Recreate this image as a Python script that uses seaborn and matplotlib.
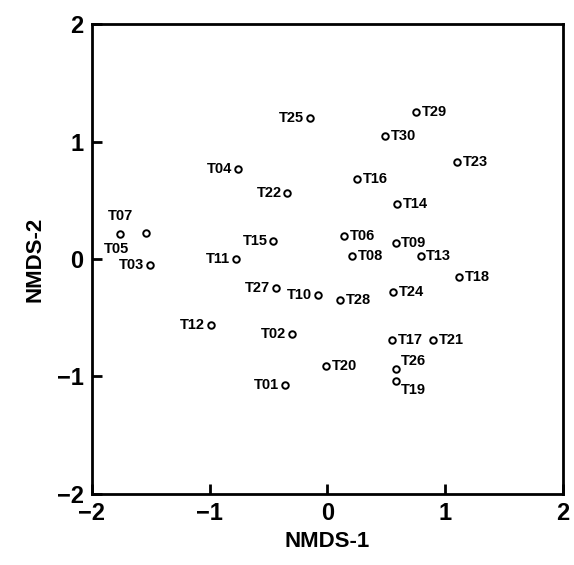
import matplotlib
matplotlib.use("Agg")
import matplotlib.pyplot as plt
import seaborn as sns
import pandas as pd

# NMDS site scores
sites = ["T01", "T02", "T03", "T04", "T05", "T06", "T07", "T08", "T09", "T10",
         "T11", "T12", "T13", "T14", "T15", "T16", "T17", "T18", "T19", "T20",
         "T21", "T22", "T23", "T24", "T25", "T26", "T27", "T28", "T29", "T30"]
nmds1 = [-0.36, -0.30, -1.51, -0.76, -1.54, 0.14, -1.76, 0.21, 0.58, -0.08,
         -0.78, -0.99, 0.79, 0.59, -0.46, 0.25, 0.55, 1.12, 0.58, -0.01,
         0.90, -0.34, 1.10, 0.56, -0.15, 0.58, -0.44, 0.11, 0.75, 0.49]
nmds2 = [-1.07, -0.64, -0.05, 0.77, 0.22, 0.20, 0.21, 0.03, 0.14, -0.31,
         0.00, -0.56, 0.03, 0.47, 0.15, 0.68, -0.69, -0.15, -1.04, -0.91,
         -0.69, 0.56, 0.83, -0.28, 1.20, -0.94, -0.25, -0.35, 1.25, 1.05]
# label side relative to the point: 'l' left, 'r' right, 'u' above,
# 'ul' above-left, 'ru' right and raised, 'rd' right and lowered
side = ["l", "l", "l", "l", "ul", "r", "u", "r", "r", "l",
        "l", "l", "r", "r", "l", "r", "r", "r", "rd", "r",
        "r", "l", "r", "r", "l", "ru", "l", "r", "r", "r"]

df = pd.DataFrame({"site": sites, "NMDS-1": nmds1, "NMDS-2": nmds2, "side": side})

sns.set_theme(style="white")
plt.rcParams["font.family"] = ["Liberation Sans", "DejaVu Sans"]

fig = plt.figure(figsize=(5.74, 5.65), dpi=100)
ax = fig.add_axes([0.160, 0.126, 0.821, 0.831])

sns.scatterplot(data=df, x="NMDS-1", y="NMDS-2", ax=ax, marker="o",
                s=22, facecolor="white", edgecolor="black", linewidth=1.4,
                zorder=3)

offsets = {
    "r": dict(xytext=(4, 0), ha="left", va="center"),
    "ru": dict(xytext=(4, 1), ha="left", va="bottom"),
    "rd": dict(xytext=(4, -1), ha="left", va="top"),
    "l": dict(xytext=(-4, 0), ha="right", va="center"),
    "u": dict(xytext=(0, 8), ha="center", va="bottom"),
    "ul": dict(xytext=(-12, -6), ha="right", va="top"),
}
for _, r in df.iterrows():
    ax.annotate(r["site"], (r["NMDS-1"], r["NMDS-2"]), textcoords="offset points",
                fontsize=10.5, fontweight="heavy", color="black",
                **offsets[r["side"]])

ax.set_xlim(-2, 2)
ax.set_ylim(-2, 2)
ax.set_xticks([-2, -1, 0, 1, 2])
ax.set_yticks([-2, -1, 0, 1, 2])
ax.set_xlabel("NMDS-1", fontsize=16, fontweight="bold", labelpad=4, color="black")
ax.set_ylabel("NMDS-2", fontsize=16, fontweight="bold", labelpad=8, color="black")
ax.tick_params(direction="in", length=7, width=2, labelsize=17, pad=6,
               bottom=True, left=True, colors="black", labelcolor="black")
for lbl in ax.get_xticklabels() + ax.get_yticklabels():
    lbl.set_fontweight("bold")
for sp in ax.spines.values():
    sp.set_linewidth(2)
    sp.set_color("black")

fig.savefig("out.png", dpi=100, facecolor="white")
